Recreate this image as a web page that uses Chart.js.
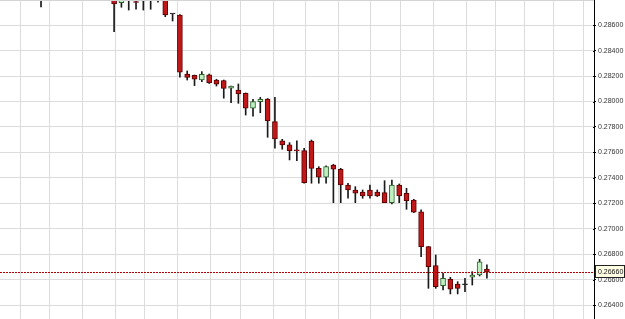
<!DOCTYPE html>
<html><head><meta charset="utf-8">
<style>html,body{margin:0;padding:0;background:#fff;overflow:hidden}#wrap{width:625px;height:319px;position:relative}</style>
<script src="https://cdn.jsdelivr.net/npm/chart.js@4/dist/chart.umd.min.js"></script>
</head><body><div id="wrap"><canvas id="c" width="625" height="319"></canvas></div>
<script>
// candle index (bar number); null = candle entirely above the visible range
const barIndex = Array.from({length: 62}, (_, i) => i);
const opens  = [0.2885,null,null,null,null,null,null,null,null,null,
  0.2881,0.28777,0.2884,0.28783,0.2879,0.2883,0.2882,0.2881,0.28688,0.2868,
  0.28216,0.28206,0.28169,0.28209,0.28169,0.28164,0.28106,0.28091,0.28065,0.27947,
  0.27999,0.2802,0.27842,0.27692,0.27659,0.27615,0.27614,0.2769,0.27475,0.27405,
  0.27501,0.27468,0.27344,0.27305,0.27289,0.27305,0.27289,0.27284,0.27205,0.27344,
  0.27279,0.27226,0.27134,0.2686,0.2671,0.26553,0.26603,0.26566,0.2656,0.26619,
  0.26637,0.26684];
const highs  = [0.2890,null,null,null,null,null,null,null,null,null,
  0.2883,0.2884,0.2886,0.2881,0.2883,0.2885,0.2884,0.2882,0.28690,0.28684,
  0.2824,0.28208,0.28235,0.28216,0.28175,0.28169,0.28122,0.28138,0.28068,0.28018,
  0.28033,0.28024,0.28033,0.27703,0.27677,0.27692,0.27633,0.27698,0.27488,0.27494,
  0.27507,0.27475,0.27358,0.27331,0.27305,0.27344,0.27305,0.27378,0.27383,0.27352,
  0.27318,0.27232,0.27148,0.26862,0.26794,0.2665,0.26619,0.26584,0.26611,0.26663,
  0.2676,0.26716];
const lows   = [0.28743,null,null,null,null,null,null,null,null,null,
  0.28549,0.28741,0.28719,0.28725,0.28719,0.28725,0.2878,0.28667,0.28633,0.28191,
  0.28169,0.28125,0.28156,0.28143,0.28122,0.28026,0.27991,0.27986,0.27894,0.27886,
  0.27912,0.27719,0.27633,0.27625,0.27541,0.27535,0.27358,0.27358,0.27358,0.27358,
  0.27205,0.27205,0.2724,0.27205,0.2724,0.2724,0.27254,0.27205,0.27195,0.27205,
  0.27153,0.27127,0.26781,0.26532,0.26532,0.26519,0.26488,0.26488,0.26506,0.26558,
  0.26629,0.26611];
const closes = [0.2882,null,null,null,null,null,null,null,null,null,
  0.28767,0.2882,0.2881,0.28778,0.2882,0.2881,0.2881,0.2868,0.28688,0.2823,
  0.2819,0.28175,0.28214,0.28148,0.28136,0.28104,0.28122,0.28059,0.27947,0.27999,
  0.28018,0.27847,0.27706,0.27659,0.27614,0.27612,0.27362,0.27475,0.27405,0.27488,
  0.27468,0.27344,0.27305,0.27279,0.27258,0.27258,0.27258,0.27205,0.27344,0.27258,
  0.27221,0.2713,0.2686,0.26702,0.26545,0.26611,0.26525,0.26532,0.2656,0.26637,
  0.26741,0.2666];
const yTickLabels = ['0.26400','0.26600','0.26800','0.27000','0.27200','0.27400','0.27600','0.27800','0.28000','0.28200','0.28400','0.28600'];
// vertical grid (session separators), in bar-index units
const gridAt = [-4.8,-0.8,3.2,8.1,12.2,16.1,21.2,25.3,29.3,34.2,38.3,43.1,47.1,51.3,56.2,60.2,64.2,68.1,72.2];
const lastPrice = closes[closes.length - 1];

const UP_FILL = '#bff0bf', UP_LINE = '#2d5f2d';
const DN_FILL = '#c01818', DN_LINE = '#5c0000';
const DOJI = '#222222';

const pts = barIndex.map((x, k) => ({k, x})).filter(p => opens[p.k] != null);
const bodyData = pts.map(p => ({x: p.x, y: [opens[p.k], closes[p.k]], o: opens[p.k], c: closes[p.k]}));
const wickData = pts.map(p => ({x: p.x, y: [lows[p.k], highs[p.k]]}));
const fillFor = r => r.c > r.o ? UP_FILL : (r.c < r.o ? DN_FILL : DOJI);
const lineFor = r => r.c > r.o ? UP_LINE : (r.c < r.o ? DN_LINE : DOJI);

const majors = yTickLabels.map(Number);
const isMajor = v => majors.some(m => Math.abs(m - v) < 1e-7);

const overlay = {
  id: 'overlay',
  afterDraw(chart) {
    const {ctx, chartArea, scales} = chart;
    ctx.save();
    // top frame
    ctx.strokeStyle = '#d4d4d4'; ctx.lineWidth = 1;
    ctx.beginPath(); ctx.moveTo(0, 0.5); ctx.lineTo(chartArea.right, 0.5); ctx.stroke();
    // minor tick marks on the inner side of the price axis
    ctx.strokeStyle = '#000';
    scales.y.ticks.forEach(t => {
      const py = Math.round(scales.y.getPixelForValue(t.value)) + 0.5;
      ctx.beginPath(); ctx.moveTo(chartArea.right - 1, py); ctx.lineTo(chartArea.right, py); ctx.stroke();
    });
    // last price line
    const y = Math.round(scales.y.getPixelForValue(lastPrice)) + 0.5;
    ctx.strokeStyle = '#b00000'; ctx.setLineDash([2, 1]);
    ctx.beginPath(); ctx.moveTo(chartArea.left, y); ctx.lineTo(chartArea.right, y); ctx.stroke();
    ctx.setLineDash([]);
    // price box
    const bx = chartArea.right + 1.5, bw = 29, bh = 12;
    ctx.fillStyle = '#ffffe6';
    ctx.fillRect(bx, y - bh / 2 - 1, bw, bh);
    ctx.strokeStyle = '#222';
    ctx.strokeRect(bx, y - bh / 2 - 1, bw, bh);
    ctx.fillStyle = '#111';
    ctx.font = '7px "Liberation Sans", Arial, sans-serif';
    ctx.textBaseline = 'middle'; ctx.textAlign = 'left';
    ctx.fillText(lastPrice.toFixed(5), bx + 2.5, y - 0.5);
    ctx.restore();
  }
};

new Chart(document.getElementById('c'), {
  type: 'bar',
  data: {
    datasets: [
      {
        label: 'body', data: bodyData, order: 0,
        barThickness: 5, minBarLength: 1, grouped: false,
        backgroundColor: c => c.raw ? fillFor(c.raw) : DN_FILL,
        borderColor: c => c.raw ? lineFor(c.raw) : DN_LINE,
        borderWidth: 1, borderSkipped: false
      },
      {
        label: 'wick', data: wickData, order: 1,
        barThickness: 1, grouped: false,
        backgroundColor: '#1a1a1a', borderWidth: 0
      }
    ]
  },
  options: {
    responsive: false, animation: false, devicePixelRatio: 1,
    layout: {padding: 0},
    plugins: {legend: {display: false}, tooltip: {enabled: false}},
    scales: {
      x: {
        type: 'linear', min: -5.61, max: 75.65, offset: false,
        afterBuildTicks: s => { s.ticks = gridAt.map(v => ({value: v})); },
        ticks: {display: false},
        grid: {color: '#dcdcdc', drawTicks: false, lineWidth: 1},
        border: {display: false},
        afterFit: s => { s.height = 0; s.paddingLeft = 0; s.paddingRight = 0; }
      },
      y: {
        type: 'linear', position: 'right', min: 0.26291, max: 0.28798,
        afterBuildTicks: s => {
          const t = [];
          for (let k = Math.ceil(s.min / 0.0002); k * 0.0002 <= s.max + 1e-9; k++) t.push({value: +(k * 0.0002).toFixed(5)});
          s.ticks = t;
        },
        ticks: {
          autoSkip: false, maxRotation: 0, padding: 2,
          color: '#333',
          font: {family: '"Liberation Sans", Arial, sans-serif', size: 7},
          callback: v => isMajor(v) ? yTickLabels[majors.findIndex(m => Math.abs(m - v) < 1e-7)] : null
        },
        grid: {
          color: c => (c.tick && isMajor(c.tick.value)) ? '#dcdcdc' : 'rgba(0,0,0,0)',
          tickColor: '#000', tickLength: 2, lineWidth: 1
        },
        border: {display: true, color: '#000', width: 1},
        afterFit: s => { s.width = 31; s.paddingTop = 0; s.paddingBottom = 0; }
      }
    }
  },
  plugins: [overlay]
});
</script>
</body></html>
